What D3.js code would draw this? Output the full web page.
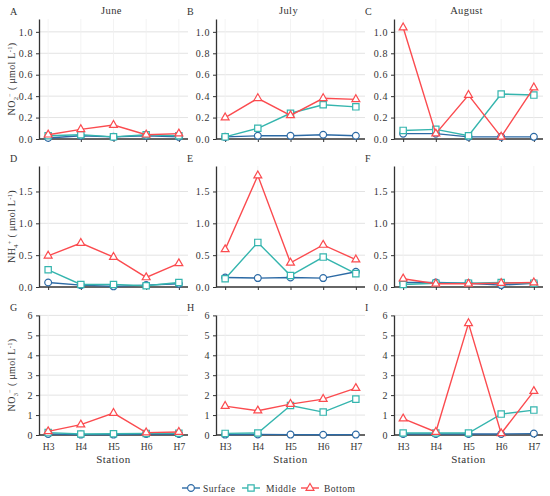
<!DOCTYPE html>
<html>
<head>
<meta charset="utf-8">
<script src="https://cdn.jsdelivr.net/npm/d3@7"></script>
<style>
  body { margin: 0; background: #fff; }
  text { font-family: "Liberation Serif", "DejaVu Serif", serif; fill: #333; }
</style>
</head>
<body>
<div id="chart"></div>
<script>
// stations and months
const stations = ["H3", "H4", "H5", "H6", "H7"];
const months = ["June", "July", "August"];
const layers = ["Surface", "Middle", "Bottom"];
const panelLetters = ["A", "B", "C", "D", "E", "F", "G", "H", "I"];

// NO2- (row 1) values per month, [surface, middle, bottom]
const no2June = [[0.01, 0.03, 0.02, 0.03, 0.02], [0.03, 0.04, 0.02, 0.04, 0.03], [0.04, 0.09, 0.13, 0.04, 0.05]];
const no2July = [[0.02, 0.03, 0.03, 0.04, 0.03], [0.02, 0.10, 0.24, 0.32, 0.30], [0.20, 0.38, 0.22, 0.38, 0.37]];
const no2Aug  = [[0.05, 0.05, 0.02, 0.02, 0.02], [0.08, 0.09, 0.03, 0.42, 0.41], [1.04, 0.05, 0.41, 0.02, 0.48]];

// NH4+ (row 2)
const nh4June = [[0.07, 0.03, 0.01, 0.03, 0.05], [0.27, 0.04, 0.04, 0.02, 0.07], [0.49, 0.69, 0.47, 0.15, 0.37]];
const nh4July = [[0.15, 0.14, 0.15, 0.14, 0.24], [0.13, 0.70, 0.18, 0.47, 0.21], [0.59, 1.75, 0.38, 0.66, 0.43]];
const nh4Aug  = [[0.07, 0.07, 0.06, 0.03, 0.06], [0.04, 0.06, 0.06, 0.07, 0.06], [0.13, 0.05, 0.05, 0.06, 0.07]];

// NO3- (row 3)
const no3June = [[0.05, 0.02, 0.02, 0.05, 0.05], [0.12, 0.05, 0.06, 0.08, 0.09], [0.18, 0.52, 1.10, 0.12, 0.15]];
const no3July = [[0.02, 0.03, 0.02, 0.01, 0.02], [0.08, 0.10, 1.48, 1.15, 1.80], [1.45, 1.22, 1.55, 1.80, 2.35]];
const no3Aug  = [[0.05, 0.05, 0.05, 0.05, 0.07], [0.10, 0.10, 0.10, 1.05, 1.25], [0.82, 0.15, 5.60, 0.08, 2.20]];

// y ticks per row
const ticksRow1 = [0, 0.2, 0.4, 0.6, 0.8, 1.0];
const ticksRow2 = [0, 0.5, 1.0, 1.5];
const ticksRow3 = [0, 1, 2, 3, 4, 5, 6];

const rows = [
  { data: [no2June, no2July, no2Aug], max: 1.12, ticks: ticksRow1, fmt: d3.format(".1f"), ion: ["NO", "2", "−"] },
  { data: [nh4June, nh4July, nh4Aug], max: 1.9, ticks: ticksRow2, fmt: d3.format(".1f"), ion: ["NH", "4", "+"] },
  { data: [no3June, no3July, no3Aug], max: 6.02, ticks: ticksRow3, fmt: d3.format("d"), ion: ["NO", "3", "−"] }
];

const colors = ["#2c6aa5", "#35b5ae", "#fb4b4f"];
const symbols = [d3.symbolCircle, d3.symbolSquare, d3.symbolTriangle];
const symSize = [36, 40, 27];

const width = 550, height = 496;
const colX = [39, 216, 394];
const panelW = 149;
const rowY = [[19, 139], [166, 287], [315, 435]];

const svg = d3.select("#chart").append("svg")
  .attr("width", width)
  .attr("height", height);

rows.forEach((row, r) => {
  const y = d3.scaleLinear().domain([0, row.max]).range([rowY[r][1], rowY[r][0]]);

  months.forEach((m, c) => {
    const x = d3.scalePoint().domain(stations).range([colX[c], colX[c] + panelW]).padding(0.28);
    const g = svg.append("g");

    // grid
    g.selectAll(".hg").data(row.ticks.filter(t => t > 0)).enter().append("line")
      .attr("x1", colX[c]).attr("x2", colX[c] + panelW)
      .attr("y1", d => y(d)).attr("y2", d => y(d))
      .attr("stroke", "#e3e3e3").attr("stroke-width", 1);
    g.selectAll(".vg").data(stations).enter().append("line")
      .attr("x1", d => x(d)).attr("x2", d => x(d))
      .attr("y1", y(0)).attr("y2", rowY[r][0])
      .attr("stroke", "#f0f0f0").attr("stroke-width", 0.8);

    // axes
    const yAxis = g.append("g").attr("transform", `translate(${colX[c]},0)`)
      .call(d3.axisLeft(y).tickValues(row.ticks).tickFormat(row.fmt).tickSize(3).tickSizeOuter(0));
    yAxis.select(".domain").attr("stroke", "#333").attr("stroke-width", 1.3);
    yAxis.selectAll(".tick line").attr("stroke", "#333");
    yAxis.selectAll("text").attr("font-size", 10).attr("fill", "#444")
      .attr("font-family", "Liberation Serif, serif").attr("letter-spacing", 0.6);

    const xAxis = g.append("g").attr("transform", `translate(0,${y(0)})`)
      .call(d3.axisBottom(x).tickSize(3).tickSizeOuter(0)
        .tickFormat(r === 2 ? (d => d) : () => ""));
    xAxis.select(".domain").attr("stroke", "#333").attr("stroke-width", 1.6)
      .attr("d", `M${colX[c]},0H${colX[c] + panelW}`);
    xAxis.selectAll(".tick line").attr("stroke", "#333");
    xAxis.selectAll("text").attr("font-size", 9.5).attr("fill", "#444")
      .attr("font-family", "Liberation Serif, serif").attr("dy", "0.9em");

    if (r === 2) {
      g.append("text")
        .attr("x", colX[c] + panelW / 2).attr("y", 463)
        .attr("text-anchor", "middle").attr("font-size", 11)
        .attr("letter-spacing", 0.5)
        .text("Station");
    }

    // panel letter
    g.append("text")
      .attr("x", colX[c] - 29).attr("y", rowY[r][0] - 4)
      .attr("font-size", 10)
      .text(panelLetters[r * 3 + c]);

    if (r === 0) {
      g.append("text")
        .attr("x", colX[c] + panelW / 2 - 2).attr("y", 14)
        .attr("text-anchor", "middle").attr("font-size", 10.5)
        .attr("letter-spacing", 0.4)
        .text(m);
    }

    // series
    row.data[c].forEach((vals, s) => {
      const line = d3.line().x((d, i) => x(stations[i])).y(d => y(d));
      g.append("path").datum(vals)
        .attr("d", line)
        .attr("fill", "none")
        .attr("stroke", colors[s])
        .attr("stroke-width", 1.4);
      g.selectAll(".pt" + s).data(vals).enter().append("path")
        .attr("transform", (d, i) => `translate(${x(stations[i])},${y(d)})`)
        .attr("d", d3.symbol().type(symbols[s]).size(symSize[s]))
        .attr("fill", "#fff")
        .attr("stroke", colors[s])
        .attr("stroke-width", 1.2);
    });
  });

  // y title
  const cy = (rowY[r][0] + rowY[r][1]) / 2;
  const t = svg.append("text")
    .attr("transform", `translate(15,${cy}) rotate(-90)`)
    .attr("text-anchor", "middle")
    .attr("font-size", 10)
    .attr("letter-spacing", 0.3);
  t.append("tspan").text(row.ion[0]);
  t.append("tspan").attr("font-size", 6.5).attr("dy", 2.5).text(row.ion[1]);
  t.append("tspan").attr("font-size", 6.5).attr("dy", -6).text(row.ion[2]);
  t.append("tspan").attr("dy", 3.5).text(" ( μmol L");
  t.append("tspan").attr("font-size", 6.5).attr("dy", -3.5).text("-1");
  t.append("tspan").attr("dy", 3.5).text(")");
});

// legend
const legendX = [191, 251, 310];
const legendTextX = [203, 266, 324];
const ly = 488;
layers.forEach((name, s) => {
  svg.append("line")
    .attr("x1", legendX[s] - 9).attr("x2", legendX[s] + 9)
    .attr("y1", ly).attr("y2", ly)
    .attr("stroke", colors[s]).attr("stroke-width", 1.4);
  svg.append("path")
    .attr("transform", `translate(${legendX[s]},${ly})`)
    .attr("d", d3.symbol().type(symbols[s]).size(symSize[s]))
    .attr("fill", "#fff").attr("stroke", colors[s]).attr("stroke-width", 1.2);
  svg.append("text")
    .attr("x", legendTextX[s]).attr("y", ly + 3.5)
    .attr("font-size", 9.5)
    .attr("letter-spacing", 0.5)
    .text(name);
});
</script>
</body>
</html>
